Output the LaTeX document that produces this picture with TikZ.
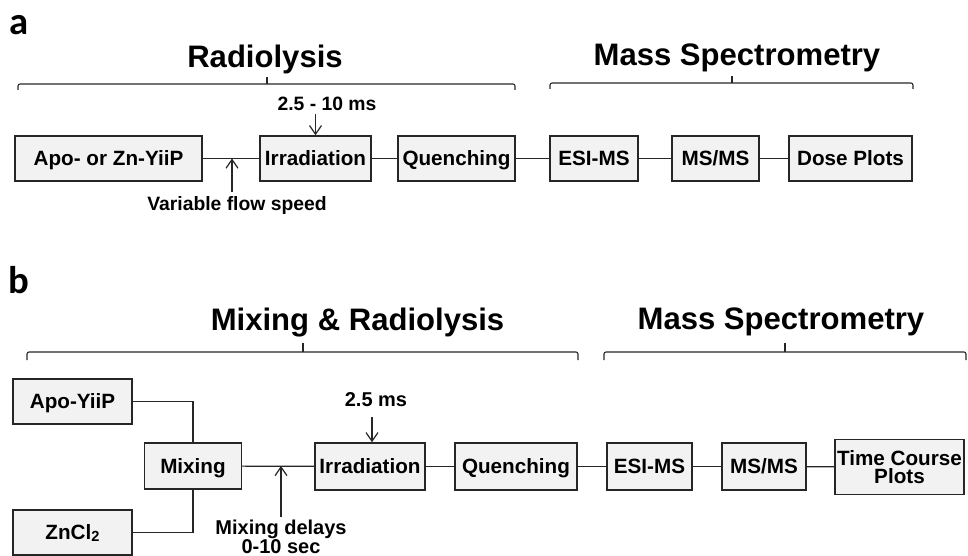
\documentclass[tikz,border=0pt]{standalone}
\usepackage{fontspec}
\setmainfont{Liberation Sans}
\newfontfamily\panelfont{Carlito}
\usetikzlibrary{arrows.meta}
\begin{document}
\begin{tikzpicture}[x=0.75pt,y=-0.75pt,
  boxbase/.style={draw=black!85,line width=1.1pt,fill=black!5,inner sep=0pt,
    font=\fontsize{15.5}{15}\selectfont\bfseries},
  onebox/.style={boxbase,text height=11.2pt,text depth=0pt},
  sz/.style 2 args={minimum width=#1*0.75pt,minimum height=#2*0.75pt},
  conn/.style={line width=0.9pt,draw=black!85},
  arr/.style={line width=0.9pt,draw=black!85,-{Straight Barb[length=6.5pt,width=9pt]}},
  lab/.style={font=\fontsize{14.5}{14}\selectfont\bfseries,inner sep=0pt},
  title/.style={font=\fontsize{23.3}{24}\selectfont\bfseries,inner sep=0pt,anchor=base},
  panel/.style={font=\fontsize{29}{30}\selectfont\panelfont\bfseries,inner sep=0pt,anchor=base},
  bracket/.style={line width=0.8pt,draw=black!85,rounded corners=1.5pt}]
\useasboundingbox (0,0) rectangle (968,556);

% ---------- panel a ----------
\node[panel] (pa) at (19,35) {a};
\node[title] (ta1) at (265,68) {Radiolysis};
\node[title] (ta2) at (737,66) {Mass Spectrometry};
\draw[bracket] (18,90) -- (18,84) -- (515,84) -- (515,90);
\draw[bracket] (267,84) -- (267,77);
\draw[bracket] (550,89) -- (550,83) -- (913,83) -- (913,89);
\draw[bracket] (732,83) -- (732,76);

\node[onebox,sz={187}{45}] (a1) at (108.5,158.5) {Apo- or Zn-YiiP};
\node[onebox,sz={111}{45}] (a2) at (315.5,158.5) {Irradiation};
\node[onebox,sz={117}{45}] (a3) at (456.5,158.5) {Quenching};
\node[onebox,sz={88}{45}] (a4) at (594,158.5) {ESI-MS};
\node[onebox,sz={87}{45}] (a5) at (715.5,158.5) {MS/MS};
\node[onebox,sz={123}{45}] (a6) at (850.5,158.5) {Dose Plots};
\draw[conn] (a1) -- (a2);
\draw[conn] (a2) -- (a3);
\draw[conn] (a3) -- (a4);
\draw[conn] (a4) -- (a5);
\draw[conn] (a5) -- (a6);

\node[lab,anchor=base] (la1) at (327,111) {2.5 - 10 ms};
\coordinate (sa) at (315.5,114);
\draw[arr] (sa) -- (a2.north);
\node[lab,anchor=base] (la2) at (237,211) {Variable flow speed};
\coordinate (fa) at (232,192);
\draw[arr] (fa) -- (fa |- a1.east);

% ---------- panel b ----------
\node[panel] (pb) at (18.5,293) {b};
\node[title] (tb1) at (357.5,330) {Mixing \& Radiolysis};
\node[title] (tb2) at (781,329) {Mass Spectrometry};
\draw[bracket] (27,360) -- (27,352) -- (578,352) -- (578,360);
\draw[bracket] (303,352) -- (303,343);
\draw[bracket] (604,360) -- (604,352) -- (966,352) -- (966,360);
\draw[bracket] (785,352) -- (785,343);

\node[onebox,sz={119}{45}] (b1) at (72.5,401.5) {Apo-YiiP};
\node[onebox,sz={119}{45}] (b2) at (72.5,532.5) {ZnCl\raisebox{-0.1ex}{\fontsize{11}{11}\selectfont 2}};
\node[onebox,sz={97}{46}] (b3) at (193,466) {Mixing};
\node[onebox,sz={110}{47}] (b4) at (370,466.5) {Irradiation};
\node[onebox,sz={122}{47}] (b5) at (516,466.5) {Quenching};
\node[onebox,sz={85}{47}] (b6) at (649.5,466.5) {ESI-MS};
\node[onebox,sz={84}{47}] (b7) at (764,466.5) {MS/MS};
\node[boxbase,sz={129}{55},align=center,
  font=\fontsize{15.5}{14}\selectfont\bfseries] (b8) at (899.5,467) {Time Course\\Plots};
\draw[conn] (b1.east) -| (b3.north);
\draw[conn] (b2.east) -| (b3.south);
\draw[conn] (b3) -- (b4);
\draw[conn] (b4) -- (b5);
\draw[conn] (b5) -- (b6);
\draw[conn] (b6) -- (b7);
\draw[conn] (b7) -- (b8);

\node[lab,anchor=base,font=\fontsize{15}{14}\selectfont\bfseries] (lb1) at (376,406) {2.5 ms};
\coordinate (sb) at (372,417);
\draw[arr] (sb) -- (sb |- b4.north);
\node[lab,anchor=north,align=center,font=\fontsize{15}{14.3}\selectfont\bfseries] (lb2) at (281,519.5) {Mixing delays\\0-10 sec};
\coordinate (fb) at (281,517);
\draw[arr] (fb) -- (fb |- b3.east);
\end{tikzpicture}
\end{document}
